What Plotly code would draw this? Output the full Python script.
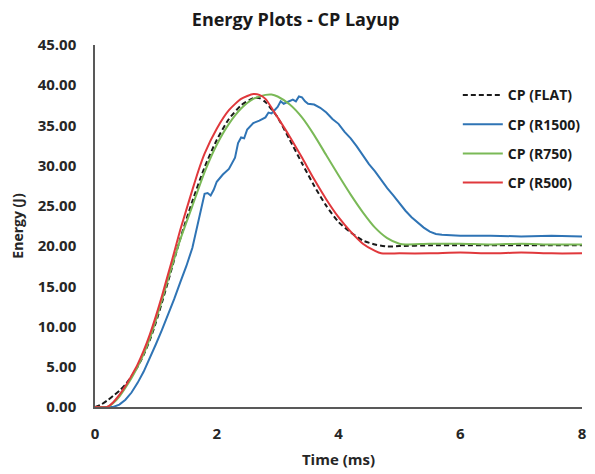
import plotly.graph_objects as go

# ---- data ----
t_flat = [0, 0.1, 0.2, 0.3, 0.4, 0.5, 0.6, 0.7, 0.8, 0.9, 1.0, 1.1, 1.2, 1.4, 1.6, 1.8, 2.0, 2.2, 2.4, 2.6,
          2.7, 2.8, 3.0, 3.2, 3.4, 3.6, 3.8, 4.0, 4.2, 4.4, 4.6, 4.8, 5.0, 5.5, 6.0, 6.5, 7.0, 7.5, 8.0]
e_flat = [0, 0.3, 0.8, 1.4, 2.0, 2.8, 3.8, 5.0, 6.5, 8.3, 10.5, 13.0, 15.6, 20.9, 25.6, 29.8, 33.2, 35.8, 37.5, 38.4,
          38.4, 37.9, 36.0, 33.2, 30.3, 27.5, 25.0, 23.0, 21.7, 20.7, 20.2, 19.95, 20.0, 20.1, 20.1, 20.1, 20.1, 20.1, 20.1]

t_r1500 = [0, 0.3, 0.4, 0.5, 0.6, 0.7, 0.8, 0.9, 1.0, 1.1, 1.2, 1.3, 1.4, 1.5, 1.6, 1.65, 1.7, 1.75, 1.8, 1.85,
           1.9, 1.95, 2.0, 2.1, 2.2, 2.3, 2.35, 2.4, 2.45, 2.5, 2.6, 2.7, 2.8, 2.85, 2.9, 3.0, 3.05, 3.1, 3.2, 3.25,
           3.3, 3.35, 3.4, 3.45, 3.5, 3.6, 3.7, 3.8, 3.9, 4.0, 4.1, 4.2, 4.3, 4.4, 4.5, 4.6, 4.7, 4.8, 4.9, 5.0,
           5.1, 5.2, 5.3, 5.4, 5.5, 5.6, 5.7, 6.0, 6.5, 7.0, 7.5, 8.0]
e_r1500 = [0, 0, 0.3, 0.9, 1.8, 3.0, 4.4, 6.0, 7.8, 9.6, 11.4, 13.4, 15.5, 17.5, 19.8, 21.5, 23.3, 24.8, 26.5, 26.6,
           26.3, 27.0, 28.0, 28.9, 29.6, 31.0, 32.8, 33.5, 33.4, 34.5, 35.3, 35.6, 36.0, 36.6, 36.5, 37.3, 38.0, 37.7, 38.0, 38.2,
           38.0, 38.6, 38.5, 38.0, 37.7, 37.6, 37.2, 36.6, 35.8, 35.2, 34.2, 33.4, 32.4, 31.3, 30.2, 29.3, 28.2, 27.2, 26.3, 25.3,
           24.4, 23.6, 22.9, 22.3, 21.8, 21.5, 21.4, 21.3, 21.3, 21.2, 21.3, 21.2]

t_r750 = [0, 0.2, 0.3, 0.4, 0.5, 0.6, 0.7, 0.8, 0.9, 1.0, 1.1, 1.2, 1.4, 1.6, 1.8, 2.0, 2.2, 2.4, 2.6, 2.8,
          2.9, 3.0, 3.2, 3.4, 3.6, 3.8, 4.0, 4.2, 4.4, 4.6, 4.8, 5.0, 5.1, 5.5, 6.0, 6.5, 7.0, 7.5, 8.0]
e_r750 = [0, 0, 0.5, 1.3, 2.4, 3.6, 5.0, 6.6, 8.5, 10.8, 13.3, 15.9, 20.8, 25.0, 29.2, 32.6, 35.2, 37.1, 38.3, 38.8,
          38.85, 38.6, 37.6, 36.0, 33.8, 31.3, 28.8, 26.4, 24.2, 22.3, 21.0, 20.3, 20.2, 20.3, 20.3, 20.2, 20.3, 20.2, 20.2]

t_r500 = [0, 0.2, 0.3, 0.4, 0.5, 0.6, 0.7, 0.8, 0.9, 1.0, 1.1, 1.2, 1.3, 1.4, 1.5, 1.6, 1.7, 1.8, 2.0, 2.2,
          2.4, 2.6, 2.7, 2.8, 3.0, 3.2, 3.4, 3.6, 3.8, 4.0, 4.2, 4.4, 4.6, 4.7, 5.0, 5.5, 6.0, 6.5, 7.0, 7.5, 8.0]
e_r500 = [0, 0, 0.6, 1.5, 2.6, 3.9, 5.3, 7.0, 9.0, 11.3, 13.8, 16.5, 19.2, 22.0, 24.5, 27.0, 29.4, 31.5, 34.6, 36.9,
          38.3, 38.9, 38.8, 38.3, 36.0, 33.6, 31.0, 28.3, 25.8, 23.6, 21.8, 20.3, 19.4, 19.1, 19.1, 19.1, 19.2, 19.1, 19.2, 19.1, 19.1]

series_names = ["CP (FLAT)", "CP (R1500)", "CP (R750)", "CP (R500)"]
y_ticks = [0, 5, 10, 15, 20, 25, 30, 35, 40, 45]
x_ticks = [0, 2, 4, 6, 8]

FONT = "Open Sans"
fig = go.Figure()
fig.add_trace(go.Scatter(x=t_flat, y=e_flat, mode="lines", name=f"<b>{series_names[0]}</b>", legendgroup="a",
                         line=dict(color="#1a1a1a", width=2, dash="5px,3px", shape="spline", smoothing=0.6)))
fig.add_trace(go.Scatter(x=t_r1500, y=e_r1500, mode="lines", name=f"<b>{series_names[1]}</b>", legendgroup="b",
                         line=dict(color="#2f74b5", width=2)))
fig.add_trace(go.Scatter(x=t_r750, y=e_r750, mode="lines", name=f"<b>{series_names[2]}</b>", legendgroup="c",
                         line=dict(color="#7ab957", width=2, shape="spline", smoothing=0.6)))
fig.add_trace(go.Scatter(x=t_r500, y=e_r500, mode="lines", name=f"<b>{series_names[3]}</b>", legendgroup="d",
                         line=dict(color="#e0383c", width=2, shape="spline", smoothing=0.6)))

# the page body adds an 8px margin, so the figure is 8px smaller and its margins 8px less
fig.update_layout(
    width=587, height=466,
    margin=dict(l=87, r=9, t=37, b=67),
    paper_bgcolor="white", plot_bgcolor="white",
    font=dict(family=FONT, color="#262626"),
    title=dict(text="<b>Energy Plots - CP Layup</b>", x=0.49, xanchor="center", y=0.975, yanchor="middle",
               font=dict(size=18, family=FONT, color="#1a1a1a")),
    showlegend=True,
    legend=dict(x=0.745, y=0.905, xanchor="left", yanchor="top", bgcolor="rgba(0,0,0,0)",
                font=dict(size=14, family=FONT, color="#1a1a1a"), tracegroupgap=8,
                itemwidth=40),
)
fig.update_xaxes(range=[0, 8], tickvals=x_ticks, ticktext=[f"<b>{v}</b>" for v in x_ticks],
                 showgrid=False, zeroline=False, showline=True, linecolor="#595959", linewidth=1.5,
                 ticks="", ticklabelstandoff=12, tickfont=dict(size=15, color="#262626"), automargin=False,
                 title=dict(text="<b>Time (ms)</b>", font=dict(size=15, color="#262626"), standoff=13))
fig.update_yaxes(range=[0, 45], tickvals=y_ticks, ticktext=[f"<b>{v:.2f}</b>" for v in y_ticks],
                 showgrid=False, zeroline=False, showline=True, linecolor="#595959", linewidth=1.5,
                 ticks="", ticklabelstandoff=14, tickfont=dict(size=15, color="#262626"), automargin=False,
                 title=dict(text="<b>Energy (J)</b>", font=dict(size=14, color="#262626"), standoff=14))

fig.write_html("out.html")
